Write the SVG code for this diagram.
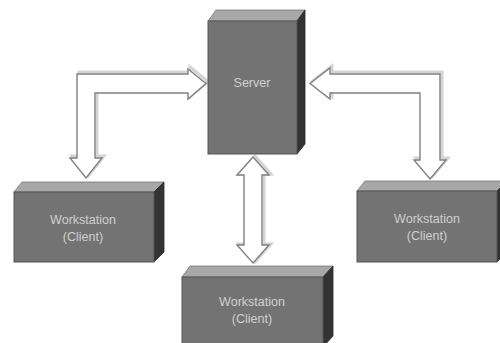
<svg xmlns="http://www.w3.org/2000/svg" width="500" height="343" viewBox="0 0 500 343">
<style>
.front{fill:#737373;stroke:#555;stroke-width:1}
.top{fill:#a8a8a8;stroke:#777;stroke-width:0.8}
.side{fill:#333;stroke:#2a2a2a;stroke-width:0.8}
.lbl{font-family:"Liberation Sans",Arial,sans-serif;font-size:12.5px;fill:#d0d0d0;text-anchor:middle}
.arr{fill:#fff;stroke:#808080;stroke-width:1.4;stroke-linejoin:miter}
.sh{fill:none;stroke:#d4d4d4;stroke-width:3}
</style>
<rect width="500" height="343" fill="#fff"/>
<g id="connectors">
<polygon class="sh" transform="translate(2,-2)" points="77,158 77,74 188,74 188,69 206,83.5 188,99 188,93 95,93 95,158 102,158 86,178 70,158"/>
<polygon class="arr" points="77,158 77,74 188,74 188,69 206,83.5 188,99 188,93 95,93 95,158 102,158 86,178 70,158"/>
<polygon class="sh" transform="translate(2,-2)" points="310,83.5 330,68 330,74 440,74 440,160 446,160 430,179 414,160 420,160 420,93 330,93 330,99"/>
<polygon class="arr" points="310,83.5 330,68 330,74 440,74 440,160 446,160 430,179 414,160 420,160 420,93 330,93 330,99"/>
<polygon class="sh" transform="translate(2,-1)" points="253,157 269,175 262,175 262,245 269,245 253,263 237,245 244,245 244,175 237,175"/>
<polygon class="arr" points="253,157 269,175 262,175 262,245 269,245 253,263 237,245 244,245 244,175 237,175"/>
</g>
<g id="server">
<polygon class="top" points="208,21 216,10 305,10 297,21"/>
<polygon class="side" points="297,21 305,10 305,144 297,154"/>
<rect class="front" x="208" y="21" width="89" height="133"/>
<text class="lbl" x="252" y="87">Server</text>
</g>
<g id="ws-left">
<polygon class="top" points="14,192 22,182 164,182 154,192"/>
<polygon class="side" points="154,192 164,182 164,252 154,262"/>
<rect class="front" x="14" y="192" width="140" height="70"/>
<text class="lbl" x="83" y="224">Workstation</text>
<text class="lbl" x="83" y="241">(Client)</text>
</g>
<g id="ws-bottom">
<polygon class="top" points="182,277 190,266 333,266 323,277"/>
<polygon class="side" points="323,277 333,266 333,336 323,347"/>
<rect class="front" x="182" y="277" width="141" height="70"/>
<text class="lbl" x="252" y="306">Workstation</text>
<text class="lbl" x="252" y="323">(Client)</text>
</g>
<g id="ws-right">
<polygon class="top" points="357,191 365,181 507,181 497,191"/>
<polygon class="side" points="497,191 507,181 507,252 497,262"/>
<rect class="front" x="357" y="191" width="140" height="71"/>
<text class="lbl" x="427" y="223">Workstation</text>
<text class="lbl" x="427" y="240">(Client)</text>
</g>
</svg>
